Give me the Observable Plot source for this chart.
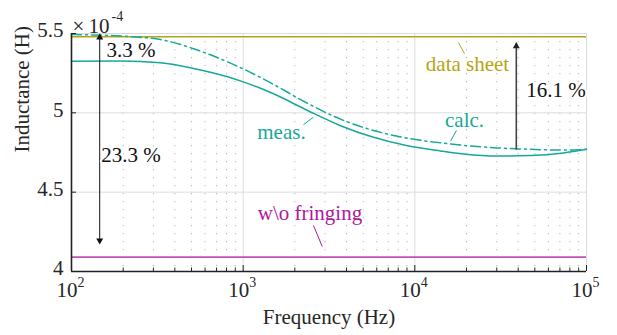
<!DOCTYPE html>
<html><head><meta charset="utf-8">
<script src="https://cdn.jsdelivr.net/npm/d3@7"></script>
<script src="https://cdn.jsdelivr.net/npm/@observablehq/plot@0.6"></script>
<style>body{margin:0;background:#fff}</style>
</head><body><div id="chart"></div>
<script>
// Inductance values in units of 1e-4 H
const measFreq = [100,193,330,514,811,1000,1262,1503,2371,3691,5745,9058,14090,19180,30260,47200,73450,100000];
const measL    = [5.325,5.326,5.315,5.280,5.227,5.195,5.155,5.120,5.015,4.919,4.846,4.793,4.760,4.741,4.728,4.731,4.747,4.770];
const calcFreq = [100,212,330,514,811,1000,1262,1503,2371,3691,5745,9058,14090,19180,30260,47200,73450,100000];
const calcL    = [5.494,5.481,5.462,5.404,5.321,5.277,5.223,5.179,5.060,4.960,4.889,4.840,4.811,4.795,4.779,4.770,4.765,4.770];
const dataSheetL = 5.48;
const noFringeL = 4.09;
const xTicks = [1e2,1e3,1e4,1e5];
const xTickExp = ["2","3","4","5"];
const yTicks = [4,4.5,5,5.5];
const yTickLabels = ["4","4.5","5","5.5"];
const minorMult = [2,3,4,5,6,7,8,9];
const decades = [1e2,1e3,1e4];

const labelText  = ["3.3 %","23.3 %","16.1 %","data sheet","calc.","meas.","w\\o fringing"];
const labelFreq  = [160,149,44570,20270,19470,1671,2449];
const labelL     = [5.393,4.735,5.141,5.309,4.956,4.879,4.364];
const labelColor = ["#111","#111","#111","#b3a612","#16a999","#16a999","#b0179c"];
const labelAnchor= ["start","start","start","middle","middle","middle","middle"];

const leaderF1 = [17950,17480,2559,2569];
const leaderF2 = [19450,16140,2245,2886];
const leaderL1 = [5.443,4.889,4.972,4.290];
const leaderL2 = [5.374,4.821,4.925,4.158];
const leaderColor = ["#b3a612","#16a999","#16a999","#b0179c"];

const teal = "#16a999";
const meas = measFreq.map((f,i)=>({f, L: measL[i]}));
const calc = calcFreq.map((f,i)=>({f, L: calcL[i]}));
const minorTicks = decades.flatMap(d => minorMult.map(m => m*d));
const labels = labelText.map((t,i)=>({t, f:labelFreq[i], L:labelL[i], c:labelColor[i], a:labelAnchor[i]}));
const leaders = leaderF1.map((f,i)=>({f1:f, f2:leaderF2[i], L1:leaderL1[i], L2:leaderL2[i], c:leaderColor[i]}));

const W = 617, H = 335, mL = 71, mR = 31, mT = 33, mB = 64;
const fw = W-mL-mR, fh = H-mT-mB;
const font = "Liberation Serif";
const FS = 21;
const ink = "#262626";

const chart = Plot.plot({
  width: W, height: H,
  marginLeft: mL, marginRight: mR, marginTop: mT, marginBottom: mB,
  style: {fontFamily: font, fontSize: FS + "px", background: "#fff", overflow: "visible"},
  x: {type: "log", domain: [1e2, 1e5], axis: null},
  y: {domain: [4, 5.5], axis: null},
  marks: [
    Plot.ruleX(minorTicks, {x: d=>d, stroke: "#b4b4b4", strokeDasharray: "1.2,6.8", strokeWidth: 1}),
    Plot.ruleX([1e3,1e4,1e5], {stroke: "#dcdcdc", strokeWidth: 1}),
    Plot.ruleY([4.5,5,5.5], {stroke: "#dcdcdc", strokeWidth: 1}),
    Plot.ruleY([dataSheetL], {stroke: "#b3a612", strokeWidth: 1.5}),
    Plot.ruleY([noFringeL], {stroke: "#c452b8", strokeWidth: 1.8}),
    Plot.line(calc, {x: "f", y: "L", stroke: teal, strokeWidth: 1.5, strokeDasharray: "10,4,2,4", curve: "monotone-x"}),
    Plot.line(meas, {x: "f", y: "L", stroke: teal, strokeWidth: 1.5, curve: "monotone-x"}),
    // percentage arrows
    Plot.ruleX([146], {y1: 4.176, y2: 5.494, stroke: "#111", strokeWidth: 1}),
    Plot.dot([146], {x: d=>d, y: 5.494, symbol: "triangle", r: 2.6, fill: "#111", stroke: null, dy: 3}),
    Plot.dot([146], {x: d=>d, y: 4.176, symbol: "triangle", r: 2.6, fill: "#111", stroke: null, dy: -3, rotate: 180}),
    Plot.ruleX([39000], {y1: 4.765, y2: 5.439, stroke: "#444", strokeWidth: 1.6}),
    Plot.dot([39000], {x: d=>d, y: 5.439, symbol: "triangle", r: 2.6, fill: "#222", stroke: null, dy: 3}),
    // leaders
    Plot.link(leaders, {x1: "f1", x2: "f2", y1: "L1", y2: "L2", stroke: d=>d.c, strokeWidth: 1}),
    // labels
    Plot.text(labels.filter(d=>d.a==="start"), {x: "f", y: "L", text: "t", fill: d=>d.c, textAnchor: "start", fontSize: FS, stroke: "white", strokeWidth: 4, paintOrder: "stroke"}),
    Plot.text(labels.filter(d=>d.a==="middle"), {x: "f", y: "L", text: "t", fill: d=>d.c, textAnchor: "middle", fontSize: FS, stroke: "white", strokeWidth: 4, paintOrder: "stroke"}),
    // axes lines
    Plot.ruleX([1e2], {stroke: "#222", strokeWidth: 1.6}),
    Plot.ruleY([4], {stroke: "#222", strokeWidth: 1.6}),
    // inward ticks
    Plot.tickX(minorTicks, {x: d=>d, insetTop: fh-3.5, stroke: "#222", strokeWidth: 1}),
    Plot.tickX(xTicks, {x: d=>d, insetTop: fh-6, stroke: "#222", strokeWidth: 1}),
    Plot.tickY(yTicks, {y: d=>d, insetRight: fw-5, stroke: "#222", strokeWidth: 1}),
    // tick labels
    Plot.text(xTicks, {x: d=>d, frameAnchor: "bottom", dy: 25, text: ()=>"10", textAnchor: "end", dx: 6, fontSize: FS, fill: ink}),
    Plot.text(xTicks, {x: d=>d, frameAnchor: "bottom", dy: 15, text: (d,i)=>xTickExp[i], textAnchor: "start", dx: 6, fontSize: 14, fill: ink}),
    Plot.text(yTicks, {y: d=>d, frameAnchor: "left", dx: -8, dy: -3, text: (d,i)=>yTickLabels[i], textAnchor: "end", fontSize: FS, fill: ink}),
    Plot.text(["\u00d7"], {frameAnchor: "top-left", dx: 1, dy: -15, textAnchor: "start", fontSize: FS, fill: ink}),
    Plot.text(["10"], {frameAnchor: "top-left", dx: 17, dy: -15, textAnchor: "start", fontSize: FS, fill: ink}),
    Plot.text(["-4"], {frameAnchor: "top-left", dx: 40, dy: -22, textAnchor: "start", fontSize: 14, fill: ink}),
    // axis titles
    Plot.text(["Frequency (Hz)"], {frameAnchor: "bottom", dy: 52, fontSize: FS, fill: ink}),
    Plot.text(["Inductance (H)"], {frameAnchor: "left", dx: -49, rotate: -90, fontSize: FS, fill: ink})
  ]
});
document.getElementById("chart").appendChild(chart);
</script></body></html>
